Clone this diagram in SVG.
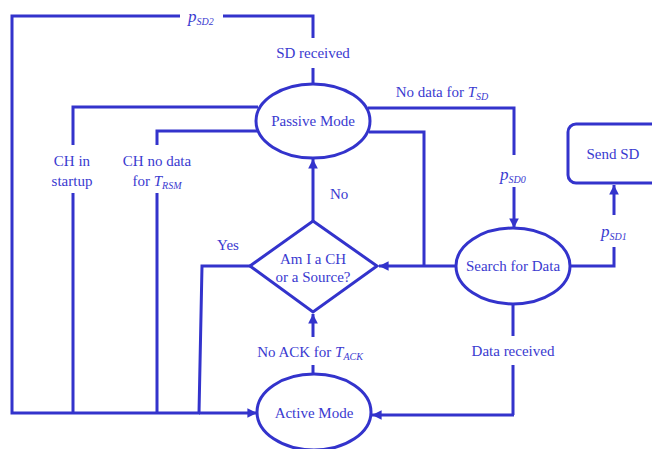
<svg xmlns="http://www.w3.org/2000/svg" width="652" height="449" viewBox="0 0 652 449">
  <defs>
    <marker id="arrow" viewBox="0 0 10 10" refX="10" refY="5" markerWidth="3.2" markerHeight="3.2" orient="auto" markerUnits="strokeWidth">
      <path d="M0,0 L10,5 L0,10 z" fill="#3333cc"/>
    </marker>
  </defs>
  <style>
    .ln { fill: none; stroke: #3333cc; stroke-width: 3; stroke-linejoin: miter; }
    .shape { fill: #ffffff; stroke: #3333cc; stroke-width: 3; }
    text { font-family: 'Liberation Serif', 'DejaVu Serif', 'Times New Roman', Times, serif; font-size: 15px; fill: #3a3ad0; }
    .c { text-anchor: middle; }
    .it { font-style: italic; }
    .p { font-style: italic; font-size: 17px; }
    .sub { font-style: italic; font-size: 10px; }
  </style>

  <g id="connectors">
    <!-- Passive Mode, SD received: loop over the top and down the left side -->
    <path class="ln" d="M313,84 V68 M313,38 V16 H223 M180,16 H12 V413 H200"/>
    <!-- CH in startup -->
    <path class="ln" d="M258,107 H73 V145 M73,193 V413"/>
    <!-- CH no data for T_RSM -->
    <path class="ln" d="M257,131 H157 V145 M157,193 V413"/>
    <!-- Yes branch into the shared bottom line -->
    <path class="ln" d="M250,266 H202 L199,413"/>
    <path class="ln" d="M199,413 H257" marker-end="url(#arrow)"/>
    <!-- No: decision up to Passive Mode -->
    <path class="ln" d="M313,221 V159" marker-end="url(#arrow)"/>
    <!-- No ACK for T_ACK -->
    <path class="ln" d="M313,373 V365"/>
    <path class="ln" d="M313,337 V314" marker-end="url(#arrow)"/>
    <!-- No data for T_SD, p_SD0 -->
    <path class="ln" d="M368,108 H514 V155"/>
    <path class="ln" d="M514,187 V228" marker-end="url(#arrow)"/>
    <!-- Passive Mode down to the decision -->
    <path class="ln" d="M369,132 H424 V266"/>
    <!-- Search for Data back to the decision -->
    <path class="ln" d="M456,266 H379" marker-end="url(#arrow)"/>
    <!-- Data received -->
    <path class="ln" d="M513,305 V336 M513,365 V415"/>
    <path class="ln" d="M514,415 H372" marker-end="url(#arrow)"/>
    <!-- p_SD1 -->
    <path class="ln" d="M571,266 H614 V247"/>
    <path class="ln" d="M614,215 V185" marker-end="url(#arrow)"/>
  </g>

  <g id="passive-mode">
    <ellipse class="shape" cx="313" cy="121" rx="57" ry="37"/>
    <text class="c" x="313" y="126">Passive Mode</text>
  </g>

  <g id="decision">
    <polygon class="shape" points="313,221 377,266 313,312 250,266"/>
    <text class="c" x="313" y="264">Am I a CH</text>
    <text class="c" x="313" y="282">or a Source?</text>
  </g>

  <g id="active-mode">
    <ellipse class="shape" cx="314" cy="412" rx="57" ry="38"/>
    <text class="c" x="314" y="418">Active Mode</text>
  </g>

  <g id="search-for-data">
    <ellipse class="shape" cx="513" cy="266" rx="57" ry="38"/>
    <text class="c" x="513" y="271">Search for Data</text>
  </g>

  <g id="send-sd">
    <rect class="shape" x="568" y="124" width="100" height="59" rx="8" ry="8"/>
    <text class="c" x="613" y="159">Send SD</text>
  </g>

  <g id="labels">
    <text x="188" y="22"><tspan class="p">p</tspan><tspan class="sub" dy="3">SD2</tspan></text>
    <text class="c" x="313" y="58">SD received</text>
    <text class="c" x="72" y="166">CH in</text>
    <text class="c" x="72" y="186">startup</text>
    <text class="c" x="157" y="166">CH no data</text>
    <text class="c" x="157" y="186">for <tspan class="it">T</tspan><tspan class="sub" dy="3">RSM</tspan></text>
    <text x="330" y="199">No</text>
    <text class="c" x="228" y="250">Yes</text>
    <text class="c" x="310" y="357">No ACK for <tspan class="it">T</tspan><tspan class="sub" dy="3">ACK</tspan></text>
    <text class="c" x="513" y="356">Data received</text>
    <text class="c" x="442" y="97">No data for <tspan class="it">T</tspan><tspan class="sub" dy="3">SD</tspan></text>
    <text x="500" y="180"><tspan class="p">p</tspan><tspan class="sub" dy="3">SD0</tspan></text>
    <text x="601" y="237"><tspan class="p">p</tspan><tspan class="sub" dy="3">SD1</tspan></text>
  </g>
</svg>
